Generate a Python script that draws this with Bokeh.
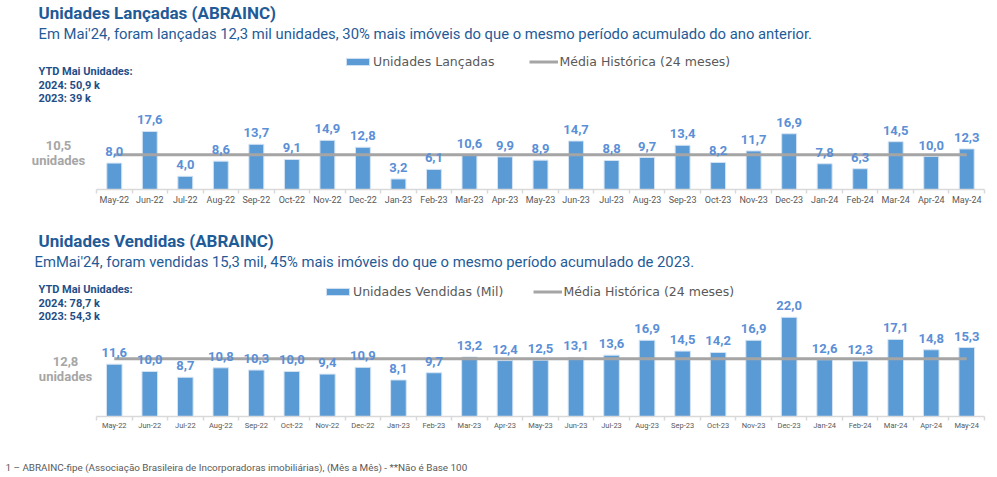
from bokeh.plotting import figure
from bokeh.models import (ColumnDataSource, Range1d, Label, Legend, LegendItem,
                          LinearAxis, FixedTicker)
from bokeh.layouts import column
from bokeh.embed import file_html
from bokeh.resources import INLINE
from bokeh.core.properties import value

# ---------------- data ----------------
months = ["May-22", "Jun-22", "Jul-22", "Aug-22", "Sep-22", "Oct-22", "Nov-22", "Dec-22",
          "Jan-23", "Feb-23", "Mar-23", "Apr-23", "May-23", "Jun-23", "Jul-23", "Aug-23",
          "Sep-23", "Oct-23", "Nov-23", "Dec-23", "Jan-24", "Feb-24", "Mar-24", "Apr-24", "May-24"]
launched = [8.0, 17.6, 4.0, 8.6, 13.7, 9.1, 14.9, 12.8, 3.2, 6.1, 10.6, 9.9, 8.9,
            14.7, 8.8, 9.7, 13.4, 8.2, 11.7, 16.9, 7.8, 6.3, 14.5, 10.0, 12.3]
sold = [11.6, 10.0, 8.7, 10.8, 10.3, 10.0, 9.4, 10.9, 8.1, 9.7, 13.2, 12.4, 12.5,
        13.1, 13.6, 16.9, 14.5, 14.2, 16.9, 22.0, 12.6, 12.3, 17.1, 14.8, 15.3]
launched_mean = 10.5
sold_mean = 12.8

title1 = "Unidades Lançadas (ABRAINC)"
subtitle1 = "Em Mai'24, foram lançadas 12,3 mil unidades, 30% mais imóveis do que o mesmo período acumulado do ano anterior."
ytd1 = ["YTD Mai Unidades:", "2024: 50,9 k", "2023: 39 k"]
legend1 = "Unidades Lançadas"

title2 = "Unidades Vendidas (ABRAINC)"
subtitle2 = "EmMai'24, foram vendidas 15,3 mil, 45% mais imóveis do que o mesmo período acumulado de 2023."
ytd2 = ["YTD Mai Unidades:", "2024: 78,7 k", "2023: 54,3 k"]
legend2 = "Unidades Vendidas (Mil)"

mean_legend = "Média Histórica (24 meses)"
footer = "1 – ABRAINC-fipe (Associação Brasileira de Incorporadoras imobiliárias), (Mês a Mês) - **Não é Base 100"

BAR = "#5B9BD5"
BAR_EDGE = "#D5E4F4"
LBL = "#5B8FD6"
MEAN = "#A5A5A5"
TITLE = "#1F5B97"
YTD = "#1F4E86"
AXIS = "#D9D9D9"
CAT = "#595959"
W = 997

AX_L, AX_R = 96, 984            # pixel extent of the category band
SLOT = (AX_R - AX_L) / len(months)
idx = list(range(len(months)))


def fmt(v):
    return f"{v:.1f}".replace(".", ",")


def xi(px):
    # page pixel -> category index coordinate
    return (px - AX_L) / SLOT - 0.5


def make_chart(height, page_top, frame_bottom_page, y_end, vals, mean, bar_w,
               cat_size, cat_standoff, title, subtitle, sub_x, ytd, title_y, sub_y, ytd_y,
               mean_xy, leg_label, leg_loc, leg_spacing):
    p = figure(width=W, height=height, x_range=Range1d(xi(0), xi(W)),
               y_range=Range1d(0, y_end), output_backend="svg", toolbar_location=None,
               x_axis_location=None, y_axis_location=None, title=None,
               min_border_left=0, min_border_right=0, min_border_top=0,
               min_border_bottom=page_top + height - frame_bottom_page)
    p.outline_line_color = None
    p.xgrid.visible = False
    p.ygrid.visible = False
    p.background_fill_color = "white"
    p.border_fill_color = "white"
    p.extra_y_ranges = {"py": Range1d(frame_bottom_page, page_top)}

    src = ColumnDataSource(dict(i=idx, v=vals, t=[fmt(v) for v in vals]))
    bars = p.vbar(x="i", top="v", width=bar_w, source=src, fill_color=BAR,
                  line_color=BAR_EDGE, line_width=1)
    mline = p.line(x=[idx[0], idx[-1]], y=[mean, mean], line_color=MEAN, line_width=3)
    p.text(x="i", y="v", text="t", source=src, text_font=value("Roboto"),
           text_font_style="bold", text_font_size="13px", text_color=LBL,
           text_align="center", text_baseline="bottom", y_offset=-7)

    axis = LinearAxis(ticker=FixedTicker(ticks=idx, minor_ticks=[i - 0.5 for i in idx] + [idx[-1] + 0.5]),
                      major_label_overrides={i: m for i, m in zip(idx, months)},
                      bounds=(idx[0] - 0.5, idx[-1] + 0.5),
                      major_tick_line_color=None, major_tick_out=0, major_tick_in=0,
                      minor_tick_out=4, minor_tick_in=0, minor_tick_line_color=AXIS,
                      minor_tick_line_width=1.5,
                      axis_line_color=AXIS, axis_line_width=1.5,
                      major_label_standoff=cat_standoff,
                      major_label_text_font_size=cat_size,
                      major_label_text_font="Roboto", major_label_text_color=CAT)
    p.add_layout(axis, "below")

    legend = Legend(items=[LegendItem(label=leg_label, renderers=[bars]),
                           LegendItem(label=mean_legend, renderers=[mline])],
                    orientation="horizontal", location=leg_loc, padding=0, margin=0,
                    spacing=leg_spacing, glyph_width=29, glyph_height=9, label_standoff=1,
                    label_text_font="DejaVu Sans", label_text_font_size="12.5px",
                    label_text_color=CAT, border_line_color=None, background_fill_alpha=0)
    p.add_layout(legend)

    def lab(x, y, text, size, color, style="normal", align="left", font="Roboto"):
        p.add_layout(Label(x=xi(x), y=y, y_range_name="py", text=text,
                           text_font=font, text_font_size=size, text_font_style=style,
                           text_color=color, text_align=align, text_baseline="middle"))

    lab(38, title_y, title, "17px", TITLE, "bold")
    lab(sub_x, sub_y, subtitle, "14.8px", TITLE)
    for i, t in enumerate(ytd):
        lab(38, ytd_y + i * 13.5, t, "11px", YTD, "bold")
    mx, my = mean_xy
    lab(mx, my, fmt(mean), "13px", "#A6A6A6", "bold", "center")
    lab(mx, my + 15, "unidades", "13px", "#A6A6A6", "bold", "center")
    return p


p1 = make_chart(214, 0, 189, 57.3, launched, launched_mean, 0.42, "9px", 1,
                title1, subtitle1, 38, ytd1, 12, 33, 71, (58, 145),
                legend1, (343, 120), 35)
p2 = make_chart(233, 214, 416, 44.8, sold, sold_mean, 0.44, "7.5px", 0,
                title2, subtitle2, 34, ytd2, 240, 261, 289, (65, 361),
                legend2, (323, 117), 30)

p3 = figure(width=W, height=30, x_range=Range1d(0, W), y_range=Range1d(477, 447),
            output_backend="svg", toolbar_location=None, x_axis_location=None,
            y_axis_location=None, title=None, min_border=0)
p3.outline_line_color = None
p3.xgrid.visible = False
p3.ygrid.visible = False
p3.add_layout(Label(x=5, y=467, text=footer, text_font="Roboto", text_font_size="9.9px",
                    text_color=CAT, text_baseline="middle"))

layout = column(p1, p2, p3, spacing=0)
open("out.html", "w").write(file_html(layout, INLINE))
